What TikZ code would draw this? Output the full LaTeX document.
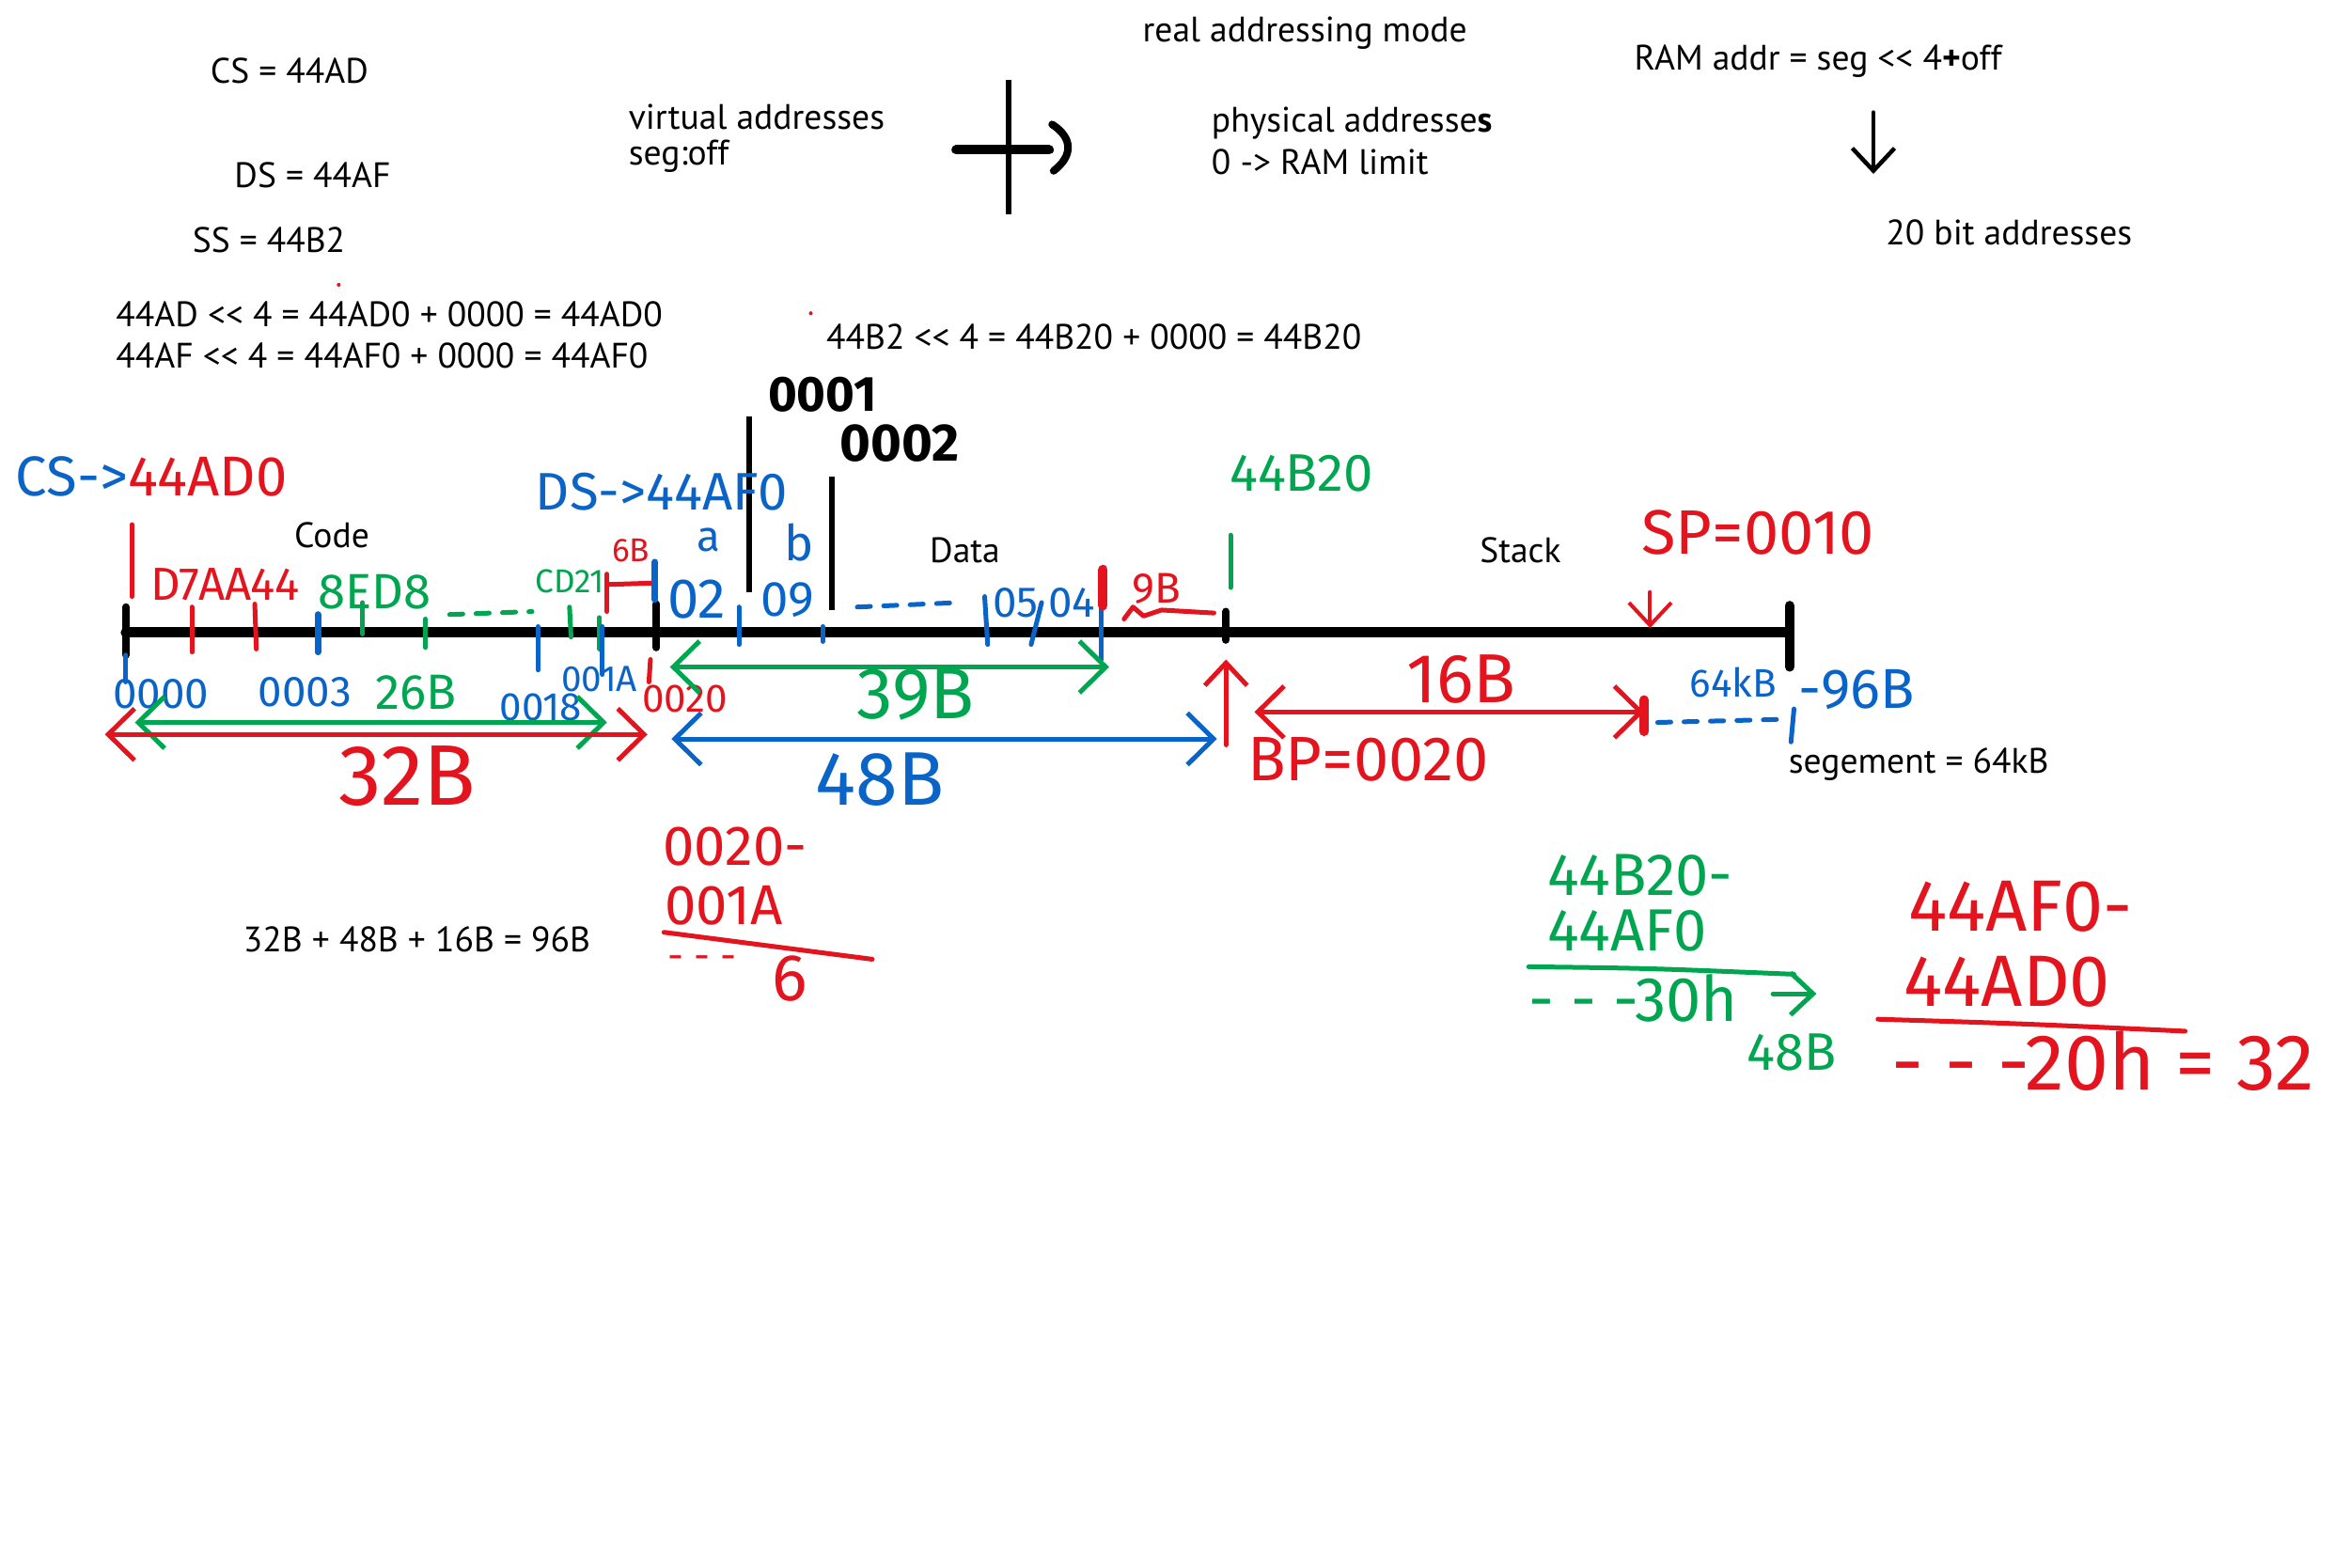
\documentclass[tikz,border=0pt]{standalone}
\usepackage{fontspec}
\setmainfont{PT Sans}
\newfontfamily\hand{Fira Sans}
\usetikzlibrary{arrows.meta}
\definecolor{hred}{HTML}{E3141E}
\definecolor{hblue}{HTML}{0A64C8}
\definecolor{hgreen}{HTML}{00A550}
\newcommand\shl{<\kern0pt<}
\begin{document}
\begin{tikzpicture}[x=0.015944cm,y=-0.015944cm,
  typed/.style={font=\fontsize{10.7}{13}\selectfont, inner sep=0, anchor=west},
  hw/.style={font=\hand\fontsize{#1}{#1}\selectfont, inner sep=0, anchor=west},
  hwc/.style={font=\hand\fontsize{#1}{#1}\selectfont, inner sep=0},
  pen/.style={line width=0.5mm, line cap=round, line join=round},
  axis/.style={line width=1.1mm, line cap=round},
  bigtick/.style={line width=0.8mm, line cap=round},
  dbl/.style={pen, arrows={Straight Barb[length=2.8mm,width=5.5mm]-Straight Barb[length=2.8mm,width=5.5mm]}},
  sgl/.style={pen, arrows={-Straight Barb[length=2.4mm,width=4.5mm]}},
  dashpen/.style={pen, dash pattern=on 4pt off 4pt}]
\useasboundingbox[fill=white] (0,0) rectangle (1568,1046);

% ---------- typed black text ----------
\node[typed] (cs) at (140,47) {CS = 44AD};
\node[typed] (ds) at (156,117) {DS = 44AF};
\node[typed] (ss) at (128,160) {SS = 44B2};
\node[typed] (eq1) at (77,210) {44AD \shl{} 4 = 44AD0 + 0000 = 44AD0};
\node[typed] (eq2) at (77,237) {44AF \shl{} 4 = 44AF0 + 0000 = 44AF0};
\node[typed] (eq3) at (551,225) {44B2 \shl{} 4 = 44B20 + 0000 = 44B20};
\node[typed] (virt) at (419,78) {virtual addresses};
\node[typed] (segoff) at (419,104) {seg:off};
\node[typed] (real) at (762,22) {real addressing mode};
\node[typed] (phys) at (808,82) {physical addresse\textbf{s}};
\node[typed] (lim) at (808,108) {0 -> RAM limit};
\node[typed] (ram) at (1090,41) {RAM addr = seg \shl{} 4\textbf{+}off};
\node[typed] (bit20) at (1258,155) {20 bit addresses};
\node[typed] (code) at (196,357) {Code};
\node[typed] (data) at (620,367) {Data};
\node[typed] (stack) at (987,367) {Stack};
\node[typed] (segm) at (1193,510) {segement = 64kB};
\node[typed] (sum) at (162,627) {32B + 48B + 16B = 96B};

% tiny red specks
\fill[hred] (226,190) circle (1.3);
\fill[hred] (541,209) circle (1.3);

% ---------- plus / arrow symbol ----------
\coordinate (plT) at (673,53); \coordinate (plB) at (673,143);
\coordinate (plL) at (638,100); \coordinate (plR) at (700,100);
\draw[line width=0.6mm] (plT) -- (plB);
\draw[line width=1mm, line cap=round] (plL) -- (plR);
\draw[line width=0.8mm, line cap=round] (702,83) .. controls (716,92) and (716,104) .. (703,114);

% down arrow
\coordinate (daT) at (1250,75); \coordinate (daB) at (1250,116);
\draw[sgl, line width=0.45mm] (daT) -- (daB);

% ---------- timeline ----------
\coordinate (ax0) at (84,422); \coordinate (ax1) at (1192,422);
\draw[axis] (ax0) -- (ax1);
\draw[bigtick] (84,405) -- (84,437);
\draw[bigtick] (438,403) -- (438,432);
\draw[bigtick] (818,408) -- (818,427);
\draw[line width=1mm, line cap=round] (1194,404) -- (1194,445);

% black offset markers
\draw[line width=0.55mm] (500,278) -- (500,395);
\draw[line width=0.55mm] (555,318) -- (555,407);
\node[hw=15, font=\hand\bfseries\fontsize{15}{15}\selectfont] (o1) at (512,263) {0001};
\node[hw=16, font=\hand\bfseries\fontsize{16}{16}\selectfont] (o2) at (560,296) {0002};

% ---------- labels above the axis ----------
\node[hw=17] (csl) at (10,318) {\color{hblue}CS->\color{hred}44AD0};
\node[hw=16, text=hblue] (dsl) at (357,328) {DS->44AF0};
\node[hw=16, text=hgreen] (ssl) at (820,316) {44B20};
\node[hw=19, text=hred] (spl) at (1095,355) {SP=0010};

% code bytes
\draw[pen, hred] (88,350) -- (88,398);
\node[hw=14, text=hred] (b1) at (100,390) {D7AA44};
\draw[pen, hred] (128,405) -- (128,435);
\draw[pen, hred] (170,403) -- (171,433);
\draw[line width=0.7mm, hblue, line cap=round] (212,410) -- (212,435);
\node[hw=15, text=hgreen] (b2) at (212,395) {8ED8};
\draw[pen, hgreen] (242,402) -- (242,423);
\draw[pen, hgreen] (284,413) -- (284,432);
\draw[dashpen, hgreen] (300,410) -- (355,408);
\draw[pen, hblue] (359,418) -- (359,447);
\node[hw=10, text=hgreen] (b3) at (357,388) {CD21};
\draw[pen, hgreen] (380,405) -- (381,425);
\draw[pen, hgreen] (400,412) -- (400,433);
\draw[pen, hblue] (402,418) -- (402,450);
\node[hwc=10, text=hred] (b6) at (421,367) {6B};
\draw[pen, hred] (405,383) -- (405,408);
\draw[pen, hred] (405,390) -- (436,389);
\draw[line width=0.7mm, hblue, line cap=round] (437,375) -- (437,400);

% data bytes
\node[hwc=13, text=hblue] (va) at (473,360) {a};
\node[hwc=15, text=hblue] (vb) at (533,362) {b};
\node[hw=17, text=hblue] (d1) at (445,400) {02};
\draw[pen, hblue] (493,405) -- (493,430);
\node[hw=15, text=hblue] (d2) at (507,400) {09};
\draw[pen, hblue] (549,418) -- (549,428);
\draw[dashpen, hblue] (572,405) -- (640,402);
\draw[pen, hblue] (657,398) -- (659,430);
\node[hw=13, text=hblue] (d3) at (662,402) {05};
\draw[pen, hblue] (695,402) -- (688,430);
\node[hw=13, text=hblue] (d4) at (699,402) {04};
\draw[pen, hblue] (735,402) -- (735,440);
\draw[line width=1mm, hred, line cap=round] (736,380) -- (736,404);
\node[hw=13, text=hred] (d9) at (755,393) {9B};
\draw[pen, hred] (750,413) -- (756,405) -- (763,411) -- (775,407) -- (810,409);
\draw[pen, hgreen] (821,357) -- (821,392);

% SP arrow
\coordinate (spT) at (1101,395); \coordinate (spB) at (1101,419);
\draw[sgl, hred, line width=0.4mm] (spT) -- (spB);

% ---------- labels below the axis ----------
\draw[pen, hblue] (84,437) -- (84,455);
\node[hw=13, text=hblue] (a0) at (75,463) {0000};
\node[hw=13, text=hblue] (a3) at (172,462) {0003};
\node[hw=15, text=hgreen] (a26) at (250,462) {26B};
\node[hw=12, text=hblue] (a18) at (333,472) {0018};
\node[hw=11, text=hblue] (a1a) at (374,453) {001A};
\draw[pen, hred] (434,440) -- (433,455);
\node[hw=12, text=hred] (a20) at (428,466) {0020};

% byte spans
\coordinate (g1a) at (90,482); \coordinate (g1b) at (405,482);
\draw[dbl, hgreen] (g1a) -- (g1b);
\coordinate (r1a) at (70,490); \coordinate (r1b) at (432,490);
\draw[dbl, hred] (r1a) -- (r1b);
\node[hwc=26, text=hred] (s32) at (272,518) {32B};

\coordinate (g2a) at (447,445); \coordinate (g2b) at (740,445);
\draw[dbl, hgreen] (g2a) -- (g2b);
\node[hwc=22, text=hgreen] (s39) at (611,463) {39B};

\coordinate (b2a) at (448,493); \coordinate (b2b) at (812,493);
\draw[dbl, hblue] (b2a) -- (b2b);
\node[hwc=23, text=hblue] (s48) at (587,520) {48B};

\coordinate (bpB) at (818,497); \coordinate (bpT) at (818,440);
\draw[sgl, hred] (bpB) -- (bpT);
\node[hw=19, text=hred] (bpl) at (832,507) {BP=0020};

\coordinate (r3a) at (837,475); \coordinate (r3b) at (1097,475);
\draw[dbl, hred] (r3a) -- (r3b);
\node[hwc=21, text=hred] (s16) at (975,453) {16B};
\draw[line width=1mm, hred, line cap=round] (1097,467) -- (1097,488);
\draw[dashpen, hblue] (1106,482) -- (1186,480);
\draw[pen, hblue] (1197,473) -- (1195,495);
\node[hw=12, text=hblue] (k64) at (1127,455) {64kB};
\node[hw=17, text=hblue] (m96) at (1200,460) {-96B};

% ---------- calculations ----------
\node[hw=17, text=hred] (c1) at (442,565) {0020-};
\node[hw=17, text=hred] (c2) at (443,604) {001A};
\draw[pen, hred] (443,622) -- (582,640);
\node[hw=12, text=hred] (c3) at (445,642) {- - -};
\node[hwc=20, text=hred] (c4) at (527,653) {6};

\node[hw=18, text=hgreen] (g1) at (1032,584) {44B20-};
\node[hw=18, text=hgreen] (g2) at (1032,621) {44AF0};
\draw[pen, hgreen] (1020,645) .. controls (1100,646) .. (1197,650);
\node[hw=19, text=hgreen] (g3) at (1020,666) {- - -30h};
\coordinate (gaA) at (1183,663); \coordinate (gaB) at (1212,663);
\draw[sgl, hgreen] (gaA) -- (gaB);
\node[hw=16, text=hgreen] (g4) at (1165,702) {48B};

\node[hw=22, text=hred] (r1) at (1273,605) {44AF0-};
\node[hw=22, text=hred] (r2) at (1270,655) {44AD0};
\draw[pen, hred] (1253,680) .. controls (1350,683) .. (1458,688);
\node[hw=24, text=hred] (r3) at (1262,708) {- - -20h = 32};
\end{tikzpicture}
\end{document}
